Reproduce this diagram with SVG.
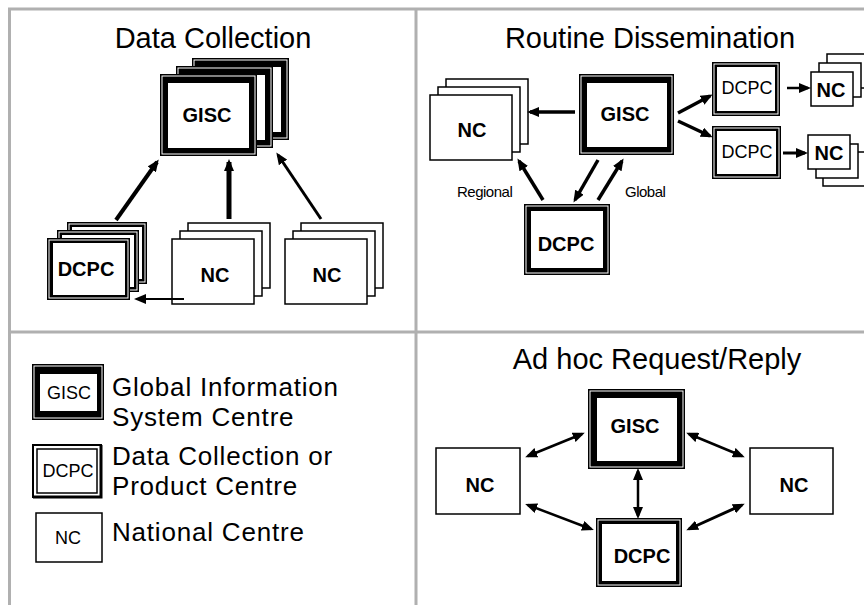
<svg xmlns="http://www.w3.org/2000/svg" width="864" height="605" viewBox="0 0 864 605">
<defs>
<style>
.grid{stroke:#b0b0b0;stroke-width:3;fill:none}
.title{font-family:"Liberation Sans",Arial,sans-serif;font-size:29px;fill:#000;text-anchor:middle}
.lbl{font-family:"Liberation Sans",Arial,sans-serif;font-size:20px;font-weight:bold;fill:#000;text-anchor:middle}
.lblr{font-family:"Liberation Sans",Arial,sans-serif;font-size:18px;fill:#000;text-anchor:middle}
.small{font-family:"Liberation Sans",Arial,sans-serif;font-size:15px;fill:#000;letter-spacing:-0.5px}
.leg{font-family:"Liberation Sans",Arial,sans-serif;font-size:26px;letter-spacing:0.8px;fill:#000}
.nc{fill:#fff;stroke:#000;stroke-width:1.5}
.blk{fill:#000}
.gap{fill:none;stroke:#fff;stroke-width:1}
.in{fill:#fff}
.arr{stroke:#000;fill:none}
</style>
<marker id="ah" markerUnits="userSpaceOnUse" markerWidth="12" markerHeight="10" viewBox="0 0 12 10" refX="9" refY="5" orient="auto-start-reverse">
<path d="M0,0 L12,5 L0,10 z" fill="#000"/>
</marker>
</defs>

<g id="grid">
<path class="grid" d="M864,9 H9.5 V605 M416,9 V605 M9,332 H864"/>
</g>

<g id="titles">
<text class="title" x="213" y="48">Data Collection</text>
<text class="title" x="650" y="48">Routine Dissemination</text>
<text class="title" x="657" y="369">Ad hoc Request/Reply</text>
</g>

<!-- Data Collection -->
<g id="dc-gisc">
<rect class="blk" x="192" y="58" width="97" height="82"/><rect class="gap" x="194" y="60" width="93" height="78"/><rect class="in" x="200" y="67" width="81" height="65"/>
<rect class="blk" x="176" y="66" width="97" height="82"/><rect class="gap" x="178" y="68" width="93" height="78"/><rect class="in" x="184" y="75" width="81" height="65"/>
<rect class="blk" x="160" y="74" width="97" height="82"/><rect class="gap" x="162" y="76" width="93" height="78"/><rect class="in" x="168" y="83" width="81" height="65"/>
<text class="lbl" x="207" y="122">GISC</text>
</g>
<g id="dc-dcpc">
<rect class="blk" x="67" y="222" width="80" height="62"/><rect class="gap" x="69" y="224" width="76" height="58"/><rect class="in" x="72" y="227" width="70" height="52"/>
<rect class="blk" x="57" y="230" width="82" height="62"/><rect class="gap" x="59" y="232" width="78" height="58"/><rect class="in" x="62" y="235" width="72" height="52"/>
<rect class="blk" x="47" y="238" width="83" height="62"/><rect class="gap" x="49" y="240" width="79" height="58"/><rect class="in" x="53" y="243" width="72" height="52"/>
<text class="lbl" x="86" y="276">DCPC</text>
</g>
<g id="dc-nc1">
<rect class="nc" x="188" y="223" width="82" height="65"/>
<rect class="nc" x="180" y="231" width="82" height="65"/>
<rect class="nc" x="172" y="239" width="82" height="65"/>
<text class="lbl" x="215" y="282">NC</text>
</g>
<g id="dc-nc2">
<rect class="nc" x="301" y="223" width="82" height="65"/>
<rect class="nc" x="293" y="231" width="82" height="65"/>
<rect class="nc" x="285" y="239" width="82" height="65"/>
<text class="lbl" x="327" y="282">NC</text>
</g>

<!-- Routine Dissemination -->
<g id="rd-nc">
<rect class="nc" x="446" y="79" width="82" height="65"/>
<rect class="nc" x="438" y="87" width="82" height="65"/>
<rect class="nc" x="430" y="95" width="82" height="65"/>
<text class="lbl" x="472" y="137">NC</text>
</g>
<g id="rd-gisc">
<rect class="blk" x="579" y="74" width="95" height="81"/><rect class="gap" x="581" y="76" width="91" height="77"/><rect class="in" x="587" y="83" width="80" height="64"/>
<text class="lbl" x="625" y="121">GISC</text>
</g>
<g id="rd-dcpc">
<rect class="blk" x="524" y="204" width="86" height="71"/><rect class="gap" x="526" y="206" width="82" height="67"/><rect class="in" x="531" y="211" width="72" height="57"/>
<text class="lbl" x="566" y="251">DCPC</text>
</g>
<g id="rd-dcpc1">
<rect class="blk" x="712" y="62" width="68" height="54"/><rect class="gap" x="714" y="64" width="64" height="50"/><rect class="in" x="717" y="67" width="58" height="44"/>
<text class="lblr" x="747" y="94">DCPC</text>
</g>
<g id="rd-dcpc2">
<rect class="blk" x="712" y="126" width="69" height="53"/><rect class="gap" x="714" y="128" width="65" height="49"/><rect class="in" x="717" y="131" width="59" height="43"/>
<text class="lblr" x="747" y="158">DCPC</text>
</g>
<g id="rd-nc1">
<rect class="nc" x="827" y="54" width="42" height="34"/>
<rect class="nc" x="819" y="63" width="42" height="34"/>
<rect class="nc" x="811" y="72" width="42" height="34"/>
<text class="lbl" x="831" y="97">NC</text>
</g>
<g id="rd-nc2">
<rect class="nc" x="823" y="152" width="42" height="34"/>
<rect class="nc" x="816" y="144" width="42" height="34"/>
<rect class="nc" x="808" y="135" width="42" height="34"/>
<text class="lbl" x="829" y="160">NC</text>
</g>
<g id="rd-labels">
<text class="small" x="457" y="197">Regional</text>
<text class="small" x="625" y="197">Global</text>
</g>

<!-- Legend -->
<g id="leg-gisc">
<rect class="blk" x="32" y="364" width="72" height="56"/><rect class="gap" x="34" y="366" width="68" height="52"/><rect class="in" x="40" y="374" width="57" height="37"/>
<text class="lblr" x="69" y="399">GISC</text>
<text class="leg" x="112" y="396">Global Information</text>
<text class="leg" x="112" y="426">System Centre</text>
</g>
<g id="leg-dcpc">
<rect fill="#fff" stroke="#000" stroke-width="2" x="33" y="445" width="68" height="52"/>
<rect fill="#fff" stroke="#000" stroke-width="1.5" x="37" y="449" width="60" height="44"/>
<path d="M33,497 H101 V445" fill="none" stroke="#000" stroke-width="3"/>
<text class="lblr" x="68" y="477">DCPC</text>
<text class="leg" x="112" y="465">Data Collection or</text>
<text class="leg" x="112" y="495">Product Centre</text>
</g>
<g id="leg-nc">
<rect class="nc" x="36" y="513" width="66" height="49"/>
<text class="lblr" x="68" y="544">NC</text>
<text class="leg" x="112" y="541">National Centre</text>
</g>

<!-- Ad hoc -->
<g id="ah-gisc">
<rect class="blk" x="588" y="389" width="97" height="80"/><rect class="gap" x="590" y="391" width="93" height="76"/><rect class="in" x="597" y="398" width="80" height="63"/>
<text class="lbl" x="635" y="433">GISC</text>
</g>
<g id="ah-dcpc">
<rect class="blk" x="596" y="518" width="86" height="69"/><rect class="gap" x="598" y="520" width="82" height="65"/><rect class="in" x="602" y="524" width="74" height="57"/>
<text class="lbl" x="642" y="563">DCPC</text>
</g>
<g id="ah-nc1">
<rect class="nc" x="436" y="448" width="84" height="66"/>
<text class="lbl" x="480" y="492">NC</text>
</g>
<g id="ah-nc2">
<rect class="nc" x="750" y="448" width="83" height="66"/>
<text class="lbl" x="794" y="492">NC</text>
</g>

<g id="connectors">
<line class="arr" stroke-width="4" x1="116" y1="220" x2="157" y2="162" marker-end="url(#ah)"/>
<line class="arr" stroke-width="5" x1="229" y1="219" x2="229" y2="162" marker-end="url(#ah)"/>
<line class="arr" stroke-width="3" x1="321" y1="219" x2="278" y2="155" marker-end="url(#ah)"/>
<line class="arr" stroke-width="2" x1="184" y1="299" x2="137" y2="299" marker-end="url(#ah)"/>

<line class="arr" stroke-width="3.5" x1="575" y1="112" x2="530" y2="112" marker-end="url(#ah)"/>
<line class="arr" stroke-width="3.5" x1="678" y1="113" x2="710" y2="96" marker-end="url(#ah)"/>
<line class="arr" stroke-width="3.5" x1="678" y1="121" x2="710" y2="136" marker-end="url(#ah)"/>
<line class="arr" stroke-width="2.5" x1="787" y1="88" x2="808" y2="88" marker-end="url(#ah)"/>
<line class="arr" stroke-width="3" x1="783" y1="153" x2="805" y2="153" marker-end="url(#ah)"/>
<line class="arr" stroke-width="3.5" x1="543" y1="200" x2="519" y2="161" marker-end="url(#ah)"/>
<line class="arr" stroke-width="3.5" x1="598" y1="160" x2="575" y2="200" marker-end="url(#ah)"/>
<line class="arr" stroke-width="3.5" x1="598" y1="200" x2="622" y2="161" marker-end="url(#ah)"/>

<line class="arr" stroke-width="2.5" x1="528" y1="456" x2="582" y2="434" marker-start="url(#ah)" marker-end="url(#ah)"/>
<line class="arr" stroke-width="2.5" x1="689" y1="434" x2="742" y2="456" marker-start="url(#ah)" marker-end="url(#ah)"/>
<line class="arr" stroke-width="2.5" x1="528" y1="505" x2="591" y2="529" marker-start="url(#ah)" marker-end="url(#ah)"/>
<line class="arr" stroke-width="3" x1="689" y1="529" x2="742" y2="505" marker-start="url(#ah)" marker-end="url(#ah)"/>
<line class="arr" stroke-width="2.5" x1="638" y1="471" x2="638" y2="516" marker-start="url(#ah)" marker-end="url(#ah)"/>
</g>
</svg>
